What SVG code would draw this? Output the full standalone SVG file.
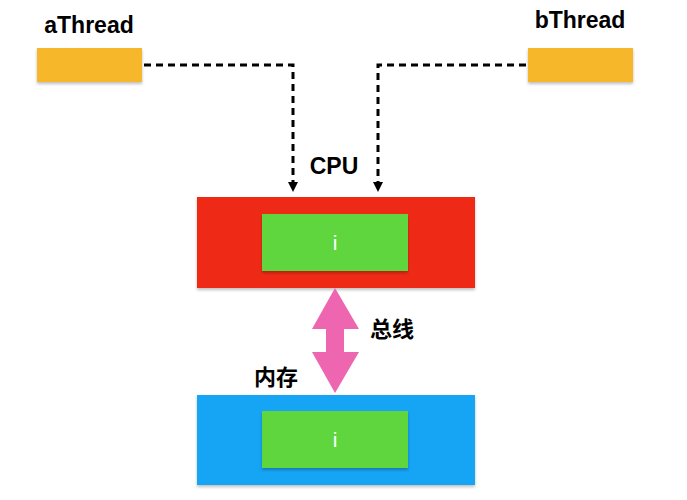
<svg xmlns="http://www.w3.org/2000/svg" width="687" height="500" viewBox="0 0 687 500">
<defs>
<style>
.lbl{font-family:"Liberation Sans",Arial,"Noto Sans CJK SC",sans-serif;font-weight:bold;font-size:23px;fill:#000}
.cjk{font-family:"Noto Sans CJK SC","Liberation Sans",sans-serif;font-weight:bold;font-size:22px;fill:#000}
.thread{fill:#F6B82A}
.inner{fill:#5FD63C}
.itxt{font-family:"Liberation Sans",Arial,sans-serif;font-size:21px;fill:#fff;text-anchor:middle}
.dash{fill:none;stroke:#000;stroke-width:3;stroke-dasharray:7,5}
</style>
<filter id="sh" x="-10%" y="-10%" width="120%" height="130%">
<feDropShadow dx="0" dy="2" stdDeviation="1.5" flood-color="#000" flood-opacity="0.25"/>
</filter>
<marker id="arr" markerWidth="10" markerHeight="10" refX="5" refY="5" orient="auto" markerUnits="userSpaceOnUse">
<path d="M0,0 L10,5 L0,10 z" fill="#000"/>
</marker>
</defs>
<rect width="687" height="500" fill="#fff"/>
<g id="aThread">
<rect class="thread" x="37" y="48" width="105" height="34" filter="url(#sh)"/>
<text class="lbl" x="89" y="33" text-anchor="middle">aThread</text>
</g>
<g id="bThread">
<rect class="thread" x="528" y="48" width="105" height="34" filter="url(#sh)"/>
<text class="lbl" x="580" y="28" text-anchor="middle">bThread</text>
</g>
<g id="cpu">
<rect x="197" y="197" width="278" height="91" fill="#EE2A12" filter="url(#sh)"/>
<rect class="inner" x="262" y="214" width="146" height="57" filter="url(#sh)"/>
<text class="itxt" x="335" y="250">i</text>
<text class="lbl" x="334" y="174" text-anchor="middle">CPU</text>
</g>
<g id="memory">
<rect x="197" y="395" width="278" height="90" fill="#12A4F4" filter="url(#sh)"/>
<rect class="inner" x="262" y="411" width="146" height="57" filter="url(#sh)"/>
<text class="itxt" x="335" y="447">i</text>
<text class="cjk" x="276" y="385" text-anchor="middle">内存</text>
</g>
<g id="connectors">
<path class="dash" d="M144,65 H293 V187" marker-end="url(#arr)"/>
<path class="dash" d="M526,65 H378 V187" marker-end="url(#arr)"/>
<g id="bus">
<polygon points="335,288 359,329 344,329 344,352 359,352 335,393 312,352 326,352 326,329 312,329" fill="#EE66B0"/>
<text class="cjk" x="392" y="337" text-anchor="middle">总线</text>
</g>
</g>
</svg>
